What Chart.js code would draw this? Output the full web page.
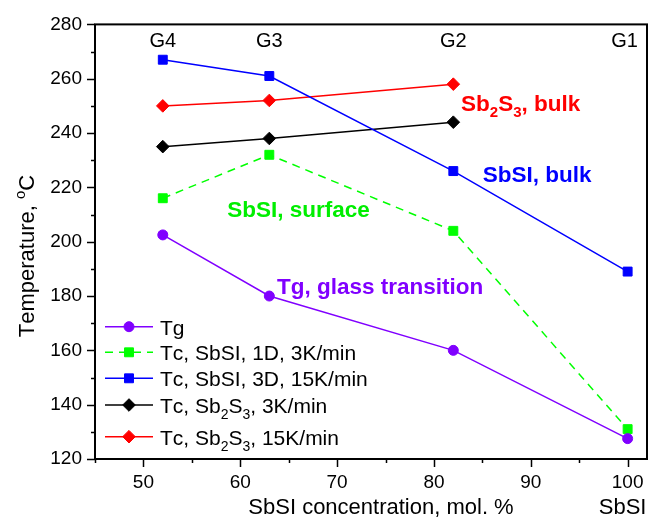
<!DOCTYPE html>
<html>
<head>
<meta charset="utf-8">
<script src="https://cdn.jsdelivr.net/npm/chart.js@4/dist/chart.umd.min.js"></script>
<style>
  html, body { margin: 0; padding: 0; background: #fff; }
  #wrap { width: 658px; height: 520px; }
</style>
</head>
<body>
<div id="wrap"><canvas id="chart" width="658" height="520"></canvas></div>
<script>
'use strict';

// SbSI concentration (mol. %) of the glasses G4..G1
const concAll = [52, 63, 82, 100];
const concGlass = [52, 63, 82];
const glassNames = ['G4', 'G3', 'G2', 'G1'];

// temperatures, deg C
const tg = [202.5, 180, 160, 127.5];
const tcSbsi1D = [216, 232, 204, 131];
const tcSbsi3D = [267, 261, 226, 189];
const tcSb2s3Slow = [235, 238, 244];
const tcSb2s3Fast = [250, 252, 258];

// tick positions (labels on the major ones only)
const xTicks = [45, 50, 55, 60, 65, 70, 75, 80, 85, 90, 95, 100];
const yTicks = [120, 130, 140, 150, 160, 170, 180, 190, 200, 210, 220, 230, 240, 250, 260, 270, 280];

const legendLabels = [
    'Tg',
    'Tc, SbSI, 1D, 3K/min',
    'Tc, SbSI, 3D, 15K/min',
    'Tc, Sb_2S_3, 3K/min',
    'Tc, Sb_2S_3, 15K/min'
];

// in-plot notes: [text, x value, y value (baseline), colour]
const notes = [
    ['Sb_2S_3, bulk', 82.8, 248.1, '#ff0000'],
    ['SbSI, bulk', 85.05, 221.9, '#0000ff'],
    ['SbSI, surface', 58.66, 209.1, '#00ee00'],
    ['Tg, glass transition', 63.8, 180.6, '#8000ff']
];

const xMin = 45, xMax = 102;
const yMin = 120, yMax = 280;

const PURPLE = '#8000ff';
const GREEN = '#00ff00';
const BLUE = '#0000ff';
const RED = '#ff0000';
const FONT = '"Liberation Sans", Arial, Helvetica, sans-serif';

function pts(xs, ys) {
    return ys.map((v, i) => ({ x: xs[i], y: v }));
}

function series(label, xs, ys, color, style, radius, dash) {
    return {
        label: label,
        data: pts(xs, ys),
        borderColor: color,
        backgroundColor: color,
        pointBackgroundColor: color,
        pointBorderColor: color,
        pointBorderWidth: 1,
        pointStyle: style,
        pointRadius: radius,
        borderWidth: 1.5,
        borderDash: dash || [],
        tension: 0
    };
}

const datasets = [
    series(legendLabels[0], concAll, tg, PURPLE, 'circle', 5),
    series(legendLabels[1], concAll, tcSbsi1D, GREEN, 'rect', 6.3, [8, 6]),
    series(legendLabels[2], concAll, tcSbsi3D, BLUE, 'rect', 6.3),
    series(legendLabels[3], concGlass, tcSb2s3Slow, '#000000', 'rectRot', 6.3),
    series(legendLabels[4], concGlass, tcSb2s3Fast, RED, 'rectRot', 6.3)
];

/**
 * Draw text where "_x" is a subscript and "^x" a superscript character.
 */
function drawRich(ctx, text, x, y, size, weight, color) {
    let cx = x;
    ctx.fillStyle = color;
    ctx.textBaseline = 'alphabetic';
    ctx.textAlign = 'left';
    for (let i = 0; i < text.length; i++) {
        let ch = text[i];
        let sz = size, dy = 0;
        if ((ch === '_' || ch === '^') && i + 1 < text.length) {
            dy = ch === '_' ? size * 0.28 : -size * 0.42;
            sz = Math.round(size * 0.68);
            ch = text[++i];
        }
        ctx.font = weight + ' ' + sz + 'px ' + FONT;
        ctx.fillText(ch, cx, y + dy);
        cx += ctx.measureText(ch).width;
    }
    return cx - x;
}

const decorPlugin = {
    id: 'decor',
    afterDraw(chart) {
        const { ctx, chartArea: a, scales: { x, y } } = chart;
        ctx.save();

        // frame
        ctx.strokeStyle = '#000';
        ctx.lineWidth = 2;
        ctx.strokeRect(a.left, a.top, a.right - a.left, a.bottom - a.top);

        // outward ticks, short for minor
        ctx.lineWidth = 1.5;
        ctx.beginPath();
        xTicks.forEach(v => {
            const px = Math.round(x.getPixelForValue(v)) + 0.5;
            const len = v % 10 === 0 ? 8 : 4;
            ctx.moveTo(px, a.bottom);
            ctx.lineTo(px, a.bottom + len);
        });
        yTicks.forEach(v => {
            const py = Math.round(y.getPixelForValue(v)) + 0.5;
            const len = v % 20 === 0 ? 8 : 4;
            ctx.moveTo(a.left, py);
            ctx.lineTo(a.left - len, py);
        });
        ctx.stroke();

        // glass names above the points
        ctx.font = '20px ' + FONT;
        ctx.fillStyle = '#000';
        ctx.textAlign = 'center';
        ctx.textBaseline = 'alphabetic';
        glassNames.forEach((g, i) => {
            const px = x.getPixelForValue(concAll[i]);
            ctx.fillText(g, i === 3 ? px - 3 : px, a.top + 22.5);
        });

        // axis titles
        ctx.font = '22px ' + FONT;
        ctx.textAlign = 'center';
        ctx.fillText('SbSI concentration, mol. %', 381, 514);
        ctx.fillText('SbSI', x.getPixelForValue(100) - 5, 514);

        ctx.save();
        ctx.translate(34, 256);
        ctx.rotate(-Math.PI / 2);
        const title = 'Temperature, ^oC';
        const w = drawRich(ctx, title, 0, -1000, 22, 'normal', 'rgba(0,0,0,0)');
        drawRich(ctx, title, -w / 2, 0, 22, 'normal', '#000');
        ctx.restore();

        // notes inside the plot
        notes.forEach(n => {
            drawRich(ctx, n[0], x.getPixelForValue(n[1]), y.getPixelForValue(n[2]), 22.5, 'bold', n[3]);
        });

        // legend
        const rows = [326.7, 352.3, 378.3, 405, 436.7];
        chart.data.datasets.forEach((ds, i) => {
            const ry = rows[i];
            ctx.save();
            ctx.strokeStyle = ds.borderColor;
            ctx.lineWidth = 1.5;
            ctx.setLineDash(ds.borderDash);
            ctx.beginPath();
            ctx.moveTo(105, ry);
            ctx.lineTo(153, ry);
            ctx.stroke();
            ctx.restore();
            ctx.fillStyle = ds.pointBackgroundColor;
            ctx.strokeStyle = ds.pointBorderColor;
            ctx.lineWidth = 1;
            Chart.helpers.drawPoint(ctx, {
                pointStyle: ds.pointStyle,
                radius: ds.pointRadius,
                rotation: 0,
                borderWidth: 1
            }, 129, ry);
            drawRich(ctx, legendLabels[i], 160, ry + 8, 21, 'normal', '#000');
        });

        ctx.restore();
    }
};

new Chart(document.getElementById('chart'), {
    type: 'line',
    data: { datasets: datasets },
    options: {
        responsive: false,
        animation: false,
        devicePixelRatio: 1,
        layout: { padding: { top: 19, right: 11, left: 0, bottom: 0 } },
        plugins: {
            legend: { display: false },
            tooltip: { enabled: false }
        },
        scales: {
            x: {
                type: 'linear',
                min: xMin,
                max: xMax,
                grid: { display: false, drawTicks: false },
                border: { display: false },
                afterBuildTicks: s => { s.ticks = xTicks.map(v => ({ value: v })); },
                ticks: {
                    autoSkip: false,
                    maxRotation: 0,
                    padding: 12,
                    color: '#000',
                    font: { family: FONT, size: 19 },
                    callback: v => (v % 10 === 0 ? v : '')
                },
                afterFit: s => { s.height = 61; }
            },
            y: {
                type: 'linear',
                min: yMin,
                max: yMax,
                grid: { display: false, drawTicks: false },
                border: { display: false },
                afterBuildTicks: s => { s.ticks = yTicks.map(v => ({ value: v })); },
                ticks: {
                    autoSkip: false,
                    padding: 13,
                    color: '#000',
                    font: { family: FONT, size: 19 },
                    callback: v => (v % 20 === 0 ? v : '')
                },
                afterFit: s => { s.width = 95; }
            }
        }
    },
    plugins: [decorPlugin]
});
</script>
</body>
</html>
